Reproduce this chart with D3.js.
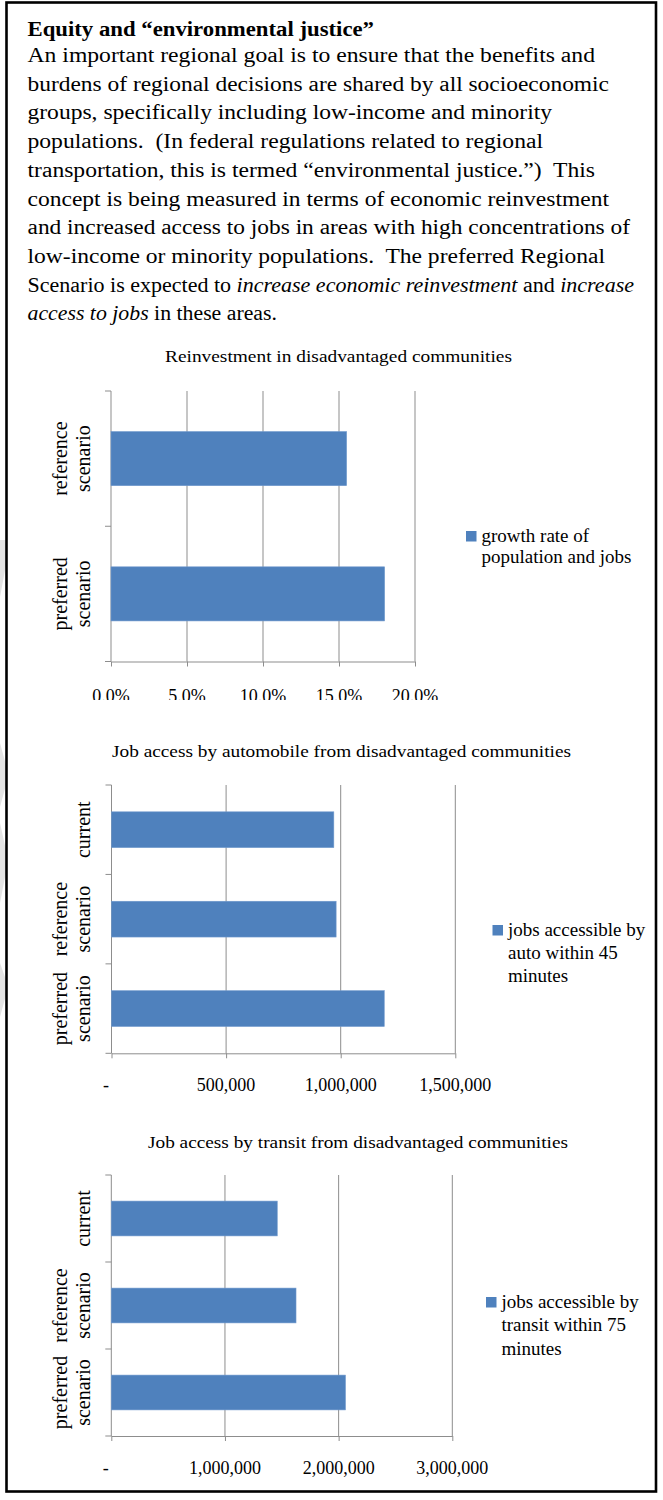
<!DOCTYPE html>
<html>
<head>
<meta charset="utf-8">
<script src="https://d3js.org/d3.v7.min.js"></script>
<style>
  body { margin: 0; background: #fff; }
  svg { display: block; }
  text { font-family: "Liberation Serif", "DejaVu Serif", serif; fill: #000; }
</style>
</head>
<body>
<svg id="page" width="663" height="1500"></svg>
<script>
// ------------------------------------------------------------
// Data
// ------------------------------------------------------------
var headingText = "Equity and \u201cenvironmental justice\u201d";
var paragraphLines = [
    [["An important regional goal is to ensure that the benefits and", false]],
    [["burdens of regional decisions are shared by all socioeconomic", false]],
    [["groups, specifically including low-income and minority", false]],
    [["populations.  (In federal regulations related to regional", false]],
    [["transportation, this is termed \u201cenvironmental justice.\u201d)  This", false]],
    [["concept is being measured in terms of economic reinvestment", false]],
    [["and increased access to jobs in areas with high concentrations of", false]],
    [["low-income or minority populations.  The preferred Regional", false]],
    [["Scenario is expected to ", false], ["increase economic reinvestment", true], [" and ", false], ["increase", true]],
    [["access to jobs", true], [" in these areas.", false]]
];

var reinvestTitle = "Reinvestment in disadvantaged communities";
var reinvestCategories = [["reference", "scenario"], ["preferred", "scenario"]];
var reinvestValues = [0.155, 0.18];
var reinvestTicks = [0, 0.05, 0.10, 0.15, 0.20];
var reinvestLegend = ["growth rate of", "population and jobs"];

var autoTitle = "Job access by automobile from disadvantaged communities";
var autoCategories = [["current"], ["reference", "scenario"], ["preferred", "scenario"]];
var autoValues = [970000, 980000, 1190000];
var autoTicks = [0, 500000, 1000000, 1500000];
var autoLegend = ["jobs accessible by", "auto within 45", "minutes"];

var transitTitle = "Job access by transit from disadvantaged communities";
var transitCategories = [["current"], ["reference", "scenario"], ["preferred", "scenario"]];
var transitValues = [1460000, 1625000, 2060000];
var transitTicks = [0, 1000000, 2000000, 3000000];
var transitLegend = ["jobs accessible by", "transit within 75", "minutes"];

// ------------------------------------------------------------
// Layout
// ------------------------------------------------------------
var barColor = "#4f81bd",
    gridColor = "#8d8d8d",
    textLeft = 27.5,
    lineWidths = [567.5, 581.5, 524.5, 515.5, 567.5, 581.5, 602.5, 577.5, 606.5, 249.5];

var svg = d3.select("#page");

// faint shadows left of the frame
var shadows = [
    [[0, 540], [6, 540], [6, 565], [0, 597]],
    [[0, 743], [6, 765], [6, 785], [0, 807]],
    [[0, 823], [6, 850], [6, 872], [0, 903]],
    [[0, 963], [6, 980], [6, 995], [0, 1017]]
];
svg.selectAll("polygon.shadow")
    .data(shadows)
    .enter()
    .append("polygon")
    .attr("class", "shadow")
    .attr("points", function(d) { return d.map(function(p) { return p.join(","); }).join(" "); })
    .style("fill", "#e4e4e4");

// frame
svg.append("rect")
    .attr("x", 6.5).attr("y", 2.5)
    .attr("width", 649.5).attr("height", 1489)
    .style("fill", "none")
    .style("stroke", "#000")
    .style("stroke-width", 2.6);

// heading + paragraph
svg.append("text")
    .attr("x", textLeft).attr("y", 36)
    .attr("textLength", 346.5)
    .attr("lengthAdjust", "spacingAndGlyphs")
    .style("font-size", "20.5px")
    .style("font-weight", "bold")
    .text(headingText);

paragraphLines.forEach(function(parts, i) {
    var t = svg.append("text")
        .attr("x", textLeft)
        .attr("y", 62 + i * 28.7)
        .attr("textLength", lineWidths[i])
        .attr("lengthAdjust", "spacingAndGlyphs")
        .style("font-size", "20.5px")
        .style("white-space", "pre");
    parts.forEach(function(p) {
        t.append("tspan")
            .style("font-style", p[1] ? "italic" : "normal")
            .text(p[0]);
    });
});

// ------------------------------------------------------------
// Bar chart
// ------------------------------------------------------------
function drawBarChart(cfg) {
    var g = svg.append("g").attr("class", "chart");

    var x = d3.scaleLinear()
        .domain([0, cfg.ticks[cfg.ticks.length - 1]])
        .range([cfg.left, cfg.right]);

    var y = d3.scaleBand()
        .domain(d3.range(cfg.values.length))
        .range([cfg.top, cfg.bottom])
        .paddingInner(0.6)
        .paddingOuter(0.3);

    var step = y.step();

    // title
    g.append("text")
        .attr("x", cfg.titleX).attr("y", cfg.titleY)
        .attr("text-anchor", "middle")
        .attr("textLength", cfg.titleWidth)
        .attr("lengthAdjust", "spacingAndGlyphs")
        .style("font-size", "17px")
        .text(cfg.title);

    // vertical gridlines
    g.selectAll("line.grid")
        .data(cfg.ticks.slice(1))
        .enter()
        .append("line")
        .attr("class", "grid")
        .attr("x1", x).attr("x2", x)
        .attr("y1", cfg.top).attr("y2", cfg.bottom)
        .style("stroke", gridColor)
        .style("stroke-width", 1);

    // x axis with small outside ticks
    var xAxis = d3.axisBottom(x)
        .tickValues(cfg.ticks)
        .tickSize(5)
        .tickSizeOuter(0)
        .tickFormat("");
    var xg = g.append("g")
        .attr("transform", "translate(0," + cfg.bottom + ")")
        .call(xAxis);
    xg.selectAll("path, line").style("stroke", gridColor);

    // y axis line + category ticks at band edges
    g.append("line")
        .attr("x1", cfg.left).attr("x2", cfg.left)
        .attr("y1", cfg.top).attr("y2", cfg.bottom)
        .style("stroke", gridColor);
    g.selectAll("line.cat-tick")
        .data(d3.range(cfg.values.length + 1))
        .enter()
        .append("line")
        .attr("class", "cat-tick")
        .attr("x1", cfg.left - 6).attr("x2", cfg.left)
        .attr("y1", function(i) { return cfg.top + i * step; })
        .attr("y2", function(i) { return cfg.top + i * step; })
        .style("stroke", gridColor);

    // bars
    g.selectAll("rect.bar")
        .data(cfg.values)
        .enter()
        .append("rect")
        .attr("class", "bar")
        .attr("x", x(0))
        .attr("y", function(d, i) { return y(i); })
        .attr("width", function(d) { return x(d) - x(0); })
        .attr("height", y.bandwidth())
        .style("fill", barColor)
        .style("stroke", "#6f98cc")
        .style("stroke-width", 0.6);

    // category labels (rotated)
    g.selectAll("text.cat")
        .data(cfg.categories)
        .enter()
        .append("text")
        .attr("class", "cat")
        .attr("text-anchor", "middle")
        .attr("transform", function(d, i) {
            return "translate(" + cfg.catX + "," + (y(i) + y.bandwidth() / 2) + ") rotate(-90)";
        })
        .style("font-size", "20px")
        .each(function(lines) {
            var t = d3.select(this);
            lines.forEach(function(line, j) {
                t.append("tspan")
                    .attr("x", 0)
                    .attr("y", (j - (lines.length - 1)) * 23.5)
                    .text(line);
            });
        });

    // tick labels
    var labels = g.append("g");
    if (cfg.clipY) {
        var id = "clip" + Math.round(cfg.top);
        svg.append("clipPath").attr("id", id)
            .append("rect")
            .attr("x", 0).attr("y", 0)
            .attr("width", 663).attr("height", cfg.clipY);
        labels.attr("clip-path", "url(#" + id + ")");
    }
    labels.selectAll("text")
        .data(cfg.ticks)
        .enter()
        .append("text")
        .attr("x", function(d) { return d === 0 && cfg.zeroDash ? x(0) - 5.5 : x(d); })
        .attr("y", cfg.labelY)
        .attr("text-anchor", "middle")
        .style("font-size", "18px")
        .text(cfg.format);

    // legend
    var lg = g.append("g");
    lg.append("rect")
        .attr("x", cfg.legendX).attr("y", cfg.legendY)
        .attr("width", 10.5).attr("height", 10.5)
        .style("fill", barColor);
    lg.selectAll("text")
        .data(cfg.legend)
        .enter()
        .append("text")
        .attr("x", cfg.legendX + 15.5)
        .attr("y", function(d, i) { return cfg.legendY + 10.5 + i * cfg.legendStep; })
        .style("font-size", "19px")
        .text(function(d) { return d; });
}

var numFmt = d3.format(",");
function jobsFormat(d) { return d === 0 ? "-" : numFmt(d); }

drawBarChart({
    title: reinvestTitle, titleX: 338.5, titleY: 362, titleWidth: 347,
    categories: reinvestCategories, values: reinvestValues, ticks: reinvestTicks,
    left: 111, right: 415, top: 391, bottom: 661.5,
    catX: 90, labelY: 701.5, clipY: 700, zeroDash: false,
    format: d3.format(".1%"),
    legend: reinvestLegend, legendX: 466, legendY: 531, legendStep: 21.7
});

drawBarChart({
    title: autoTitle, titleX: 341.5, titleY: 757, titleWidth: 459,
    categories: autoCategories, values: autoValues, ticks: autoTicks,
    left: 111.5, right: 455.3, top: 785, bottom: 1053.3,
    catX: 90, labelY: 1091, clipY: null, zeroDash: true,
    format: jobsFormat,
    legend: autoLegend, legendX: 492.5, legendY: 925, legendStep: 23.3
});

drawBarChart({
    title: transitTitle, titleX: 358, titleY: 1148, titleWidth: 420,
    categories: transitCategories, values: transitValues, ticks: transitTicks,
    left: 111.3, right: 452.3, top: 1175, bottom: 1436,
    catX: 90, labelY: 1473.5, clipY: null, zeroDash: true,
    format: jobsFormat,
    legend: transitLegend, legendX: 486, legendY: 1297, legendStep: 23.5
});
</script>
</body>
</html>
